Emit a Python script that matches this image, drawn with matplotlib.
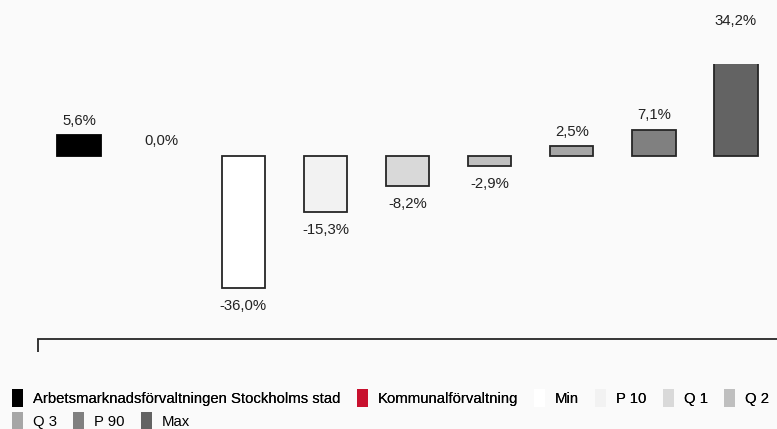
import numpy as np
import matplotlib
matplotlib.use("Agg")
import matplotlib.pyplot as plt
from matplotlib.patches import Patch

plt.rcParams['font.family'] = ['Liberation Sans', 'DejaVu Sans']

categories = ["Arbetsmarknadsförvaltningen Stockholms stad", "Kommunalförvaltning",
              "Min", "P 10", "Q 1", "Q 2", "Q 3", "P 90", "Max"]
values = [5.6, 0.0, -36.0, -15.3, -8.2, -2.9, 2.5, 7.1, 34.2]
colors = ["#000000", "#c8102e", "#ffffff", "#f2f2f2", "#d9d9d9",
          "#bfbfbf", "#a6a6a6", "#808080", "#636363"]
labels = ["5,6%", "0,0%", "-36,0%", "-15,3%", "-8,2%", "-2,9%", "2,5%", "7,1%", "34,2%"]

bg = "#fafafa"
fig = plt.figure(figsize=(7.77, 4.29), dpi=100, facecolor=bg)
ax = fig.add_axes([38/777, 1 - 339/429, 1 - 38/777, (339 - 64)/429])
ax.set_facecolor(bg)

x = np.arange(len(values))
edges = ["#000000"] + ["#262626"] * (len(values) - 1)
widths = [0 if v == 0 else 1.3 for v in values]
ax.bar(x, values, width=0.53, color=colors, edgecolor=edges, linewidth=widths)

ymin, ymax = -50, 25
ax.set_xlim(-0.5, len(values) - 0.5)
ax.set_ylim(ymin, ymax)

for xi, v, lab in zip(x, values, labels):
    if v >= 0:
        # the clipped Max bar gets its label just above the true value
        off = 0.6 if v > ymax else 2.0
        ax.text(xi, v + off, lab, ha="center", va="bottom", fontsize=10.7,
                color="#222222", clip_on=False)
    else:
        ax.text(xi, v - 3.0, lab, ha="center", va="top", fontsize=10.7,
                color="#222222", clip_on=False)

for s in ["top", "right", "left"]:
    ax.spines[s].set_visible(False)
ax.spines["bottom"].set_color("#262626")
ax.spines["bottom"].set_linewidth(1.3)
ax.set_yticks([])
ax.set_xticks([-0.5])
ax.set_xticklabels([""])
ax.tick_params(axis="x", length=9, width=1.3, color="#262626")

handles = [Patch(facecolor=c, edgecolor="none") for c in colors]
opts = dict(loc="upper left", frameon=False, fontsize=10.7,
            handlelength=0.75, handleheight=1.5, handletextpad=0.65,
            columnspacing=1.1, borderpad=0, borderaxespad=0)
leg1 = fig.legend(handles[:6], categories[:6], ncol=6,
                  bbox_to_anchor=(12/777, 1 - 389/429), **opts)
fig.legend(handles[6:], categories[6:], ncol=3,
           bbox_to_anchor=(12/777, 1 - 412/429), **opts)
fig.add_artist(leg1)

fig.savefig("out.png", dpi=100, facecolor=bg)
